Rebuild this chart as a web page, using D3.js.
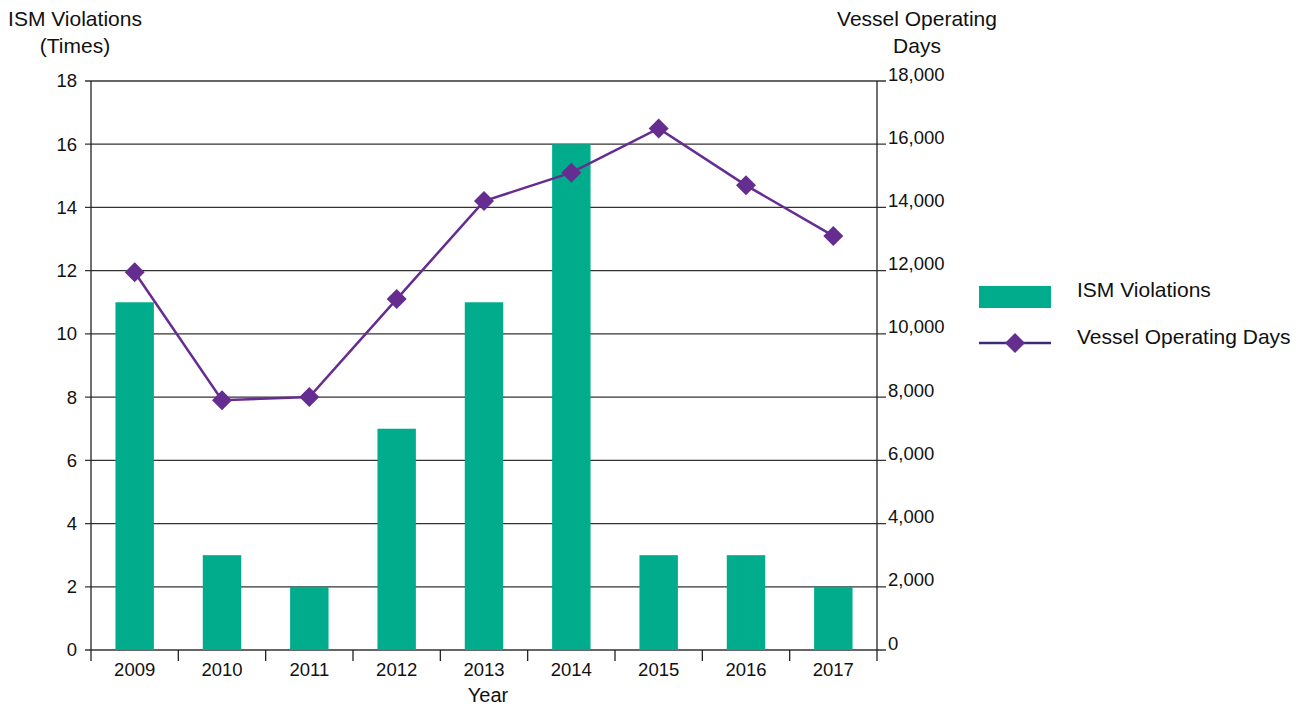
<!DOCTYPE html>
<html>
<head>
<meta charset="utf-8">
<script src="https://cdn.jsdelivr.net/npm/d3@7"></script>
<style>
    body { margin: 0; background: #fff; }
    svg { display: block; font-family: "Liberation Sans", Arial, sans-serif; }
</style>
</head>
<body>
<svg id="chart" width="1306" height="706"></svg>
<script>
// Daten
const years = ['2009', '2010', '2011', '2012', '2013', '2014', '2015', '2016', '2017'];
const ismViolations = [11, 3, 2, 7, 11, 16, 3, 3, 2];
const operatingDays = [11950, 7900, 8000, 11100, 14200, 15100, 16500, 14700, 13100];
const leftTicks = [0, 2, 4, 6, 8, 10, 12, 14, 16, 18];
const rightTicks = [0, 2000, 4000, 6000, 8000, 10000, 12000, 14000, 16000, 18000];

const BAR_COLOR = '#00ac8c';
const LINE_COLOR = '#662d91';
const LEGEND_LINE = '#3d2b78';

const svg = d3.select('#chart');
const margin = { left: 91, right: 877, top: 81, bottom: 650 };

// Skalen
const x = d3.scaleBand().domain(years).range([margin.left, margin.right]).padding(0);
const yL = d3.scaleLinear().domain([0, 18]).range([margin.bottom, margin.top]);
const yR = d3.scaleLinear().domain([0, 18000]).range([margin.bottom, margin.top]);

// Gitterlinien
svg.append('g')
    .selectAll('line')
    .data(leftTicks)
    .enter()
    .append('line')
    .attr('x1', margin.left - 6)
    .attr('x2', margin.right + 9)
    .attr('y1', d => yL(d))
    .attr('y2', d => yL(d))
    .style('stroke', '#333')
    .style('stroke-width', 1.3);

// Linke Achse
const leftAxis = svg.append('g')
    .attr('transform', `translate(${margin.left},0)`)
    .call(d3.axisLeft(yL).tickValues(leftTicks).tickSize(0).tickPadding(14));
leftAxis.select('.domain').remove();
leftAxis.selectAll('text').style('font-size', '18.5px').style('fill', '#111');

// Rechte Achse
const rightAxis = svg.append('g')
    .attr('transform', `translate(${margin.right},0)`)
    .call(d3.axisRight(yR).tickValues(rightTicks).tickSize(0).tickPadding(11)
        .tickFormat(d3.format(',')));
rightAxis.select('.domain').remove();
rightAxis.selectAll('text').attr('dy', '-0.05em').style('font-size', '18.5px').style('fill', '#111');

// Balken
svg.append('g')
    .selectAll('rect')
    .data(ismViolations)
    .enter()
    .append('rect')
    .attr('x', (d, i) => x(years[i]) + x.bandwidth() * 0.28)
    .attr('width', x.bandwidth() * 0.44)
    .attr('y', d => yL(d))
    .attr('height', d => yL(0) - yL(d))
    .attr('fill', BAR_COLOR);

// Achsenlinien vertikal
[margin.left, margin.right].forEach(xx => {
    svg.append('line')
        .attr('x1', xx).attr('x2', xx)
        .attr('y1', margin.top).attr('y2', margin.bottom + 11)
        .style('stroke', '#222')
        .style('stroke-width', 1.3);
});

// X-Achse
const xAxis = svg.append('g')
    .attr('transform', `translate(0,${margin.bottom})`)
    .call(d3.axisBottom(x).tickSize(0).tickPadding(13));
xAxis.select('.domain').remove();
xAxis.selectAll('text').style('font-size', '18.5px').style('fill', '#111');

// Tick-Striche zwischen den Jahren
svg.append('g')
    .selectAll('line')
    .data(years.slice(1))
    .enter()
    .append('line')
    .attr('x1', d => x(d))
    .attr('x2', d => x(d))
    .attr('y1', margin.bottom)
    .attr('y2', margin.bottom + 11)
    .style('stroke', '#222')
    .style('stroke-width', 1.3);

// Linie
const cx = (d, i) => x(years[i]) + x.bandwidth() / 2;
svg.append('path')
    .datum(operatingDays)
    .attr('fill', 'none')
    .attr('stroke', LINE_COLOR)
    .attr('stroke-width', 2.5)
    .attr('d', d3.line().x(cx).y(d => yR(d)));

const diamond = d3.symbol().type(d3.symbolSquare).size(200);
svg.append('g')
    .selectAll('path')
    .data(operatingDays)
    .enter()
    .append('path')
    .attr('d', diamond)
    .attr('transform', (d, i) => `translate(${cx(d, i)},${yR(d)}) rotate(45)`)
    .attr('fill', LINE_COLOR);

// Achsentitel
const title = (txt, xx, yy, anchor) => svg.append('text')
    .attr('x', xx).attr('y', yy)
    .attr('text-anchor', anchor || 'middle')
    .style('font-size', '21px')
    .style('fill', '#111')
    .text(txt);

title('ISM Violations', 75, 26);
title('(Times)', 75, 53);
title('Vessel Operating', 917, 26);
title('Days', 917, 53);
title('Year', 488, 702).style('font-size', '20px');

// Legende
const legend = svg.append('g').attr('transform', 'translate(979,0)');
legend.append('rect')
    .attr('x', 0).attr('y', 286)
    .attr('width', 72).attr('height', 22)
    .attr('fill', BAR_COLOR);
legend.append('text')
    .attr('x', 98).attr('y', 290).attr('dy', '0.35em')
    .style('font-size', '21px').style('fill', '#111')
    .text('ISM Violations');

legend.append('line')
    .attr('x1', 0).attr('x2', 72)
    .attr('y1', 343).attr('y2', 343)
    .style('stroke', LEGEND_LINE)
    .style('stroke-width', 2.5);
legend.append('path')
    .attr('d', diamond)
    .attr('transform', 'translate(36,343) rotate(45)')
    .attr('fill', LINE_COLOR);
legend.append('text')
    .attr('x', 98).attr('y', 337).attr('dy', '0.35em')
    .style('font-size', '21px').style('fill', '#111')
    .text('Vessel Operating Days');
</script>
</body>
</html>
